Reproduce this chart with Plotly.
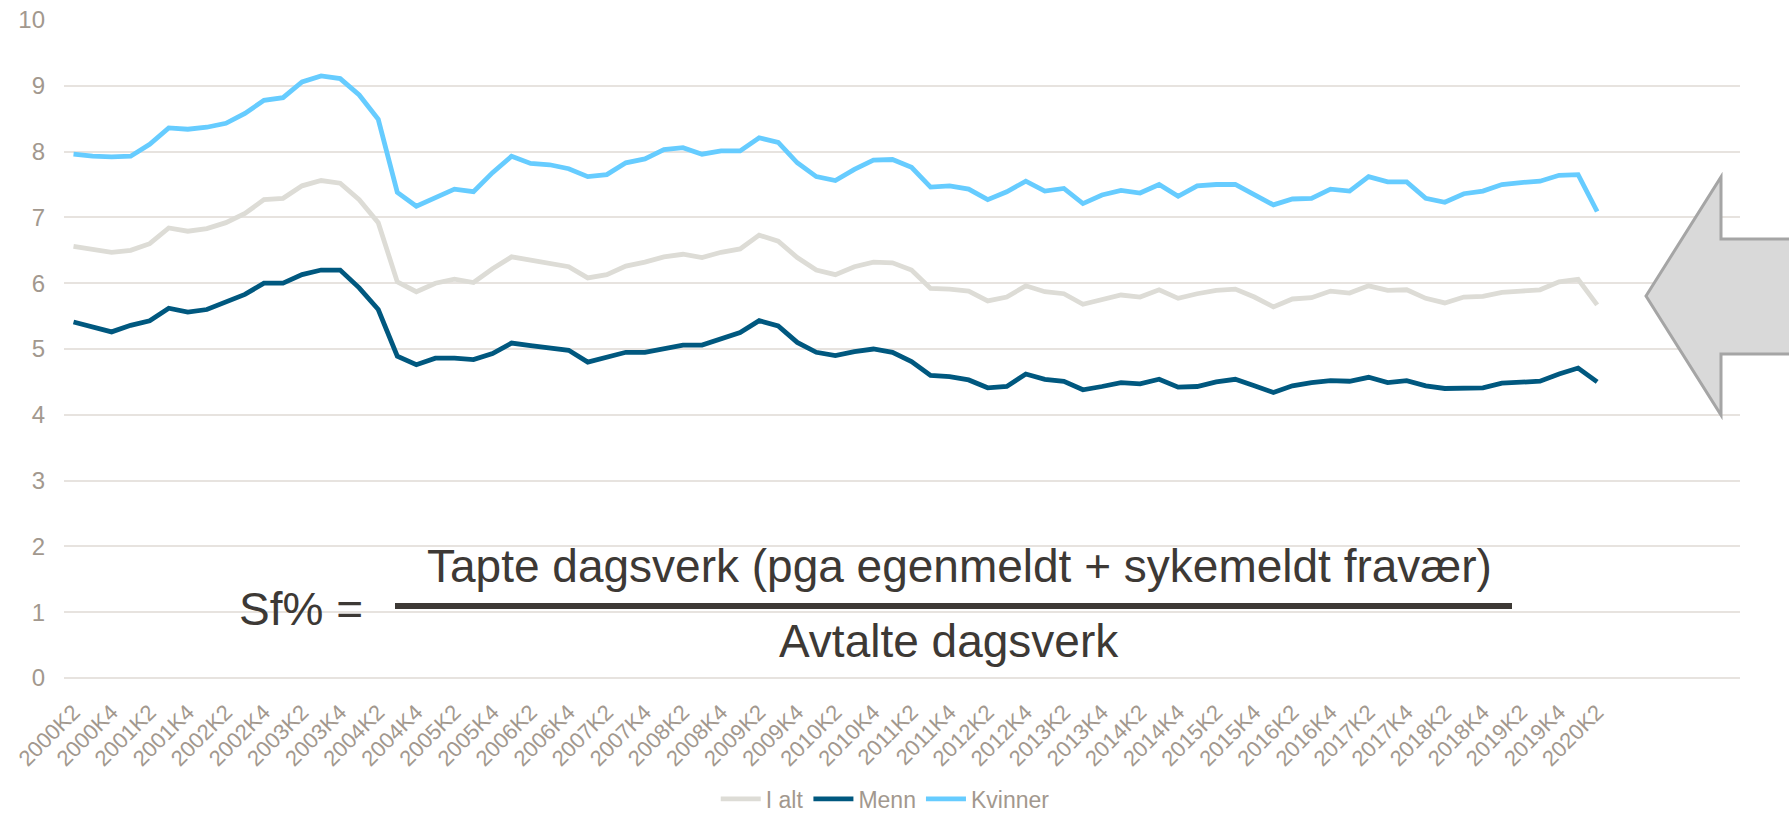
import plotly.graph_objects as go

# ---------------- data ----------------
years = list(range(2000, 2021))
categories = [f"{y}K{q}" for y in years for q in (1, 2, 3, 4)]
categories = categories[1:82]  # 2000K2 .. 2020K2 (81 quarters)

tick_labels = [
    "2000K2", "2000K4", "2001K2", "2001K4", "2002K2", "2002K4", "2003K2", "2003K4",
    "2004K2", "2004K4", "2005K2", "2005K4", "2006K2", "2006K4", "2007K2", "2007K4",
    "2008K2", "2008K4", "2009K2", "2009K4", "2010K2", "2010K4", "2011K2", "2011K4",
    "2012K2", "2012K4", "2013K2", "2013K4", "2014K2", "2014K4", "2015K2", "2015K4",
    "2016K2", "2016K4", "2017K2", "2017K4", "2018K2", "2018K4", "2019K2", "2019K4",
    "2020K2",
]

i_alt = [
    6.56, 6.51, 6.47, 6.50, 6.60, 6.84, 6.79, 6.83, 6.92, 7.06,
    7.27, 7.29, 7.48, 7.56, 7.52, 7.27, 6.92, 6.02, 5.87, 6.00,
    6.06, 6.01, 6.22, 6.40, 6.35, 6.31, 6.25, 6.08, 6.13, 6.26,
    6.32, 6.40, 6.44, 6.39, 6.47, 6.52, 6.73, 6.64, 6.39, 6.20,
    6.13, 6.25, 6.32, 6.31, 6.20, 5.92, 5.91, 5.88, 5.73, 5.79,
    5.96, 5.87, 5.84, 5.68, 5.75, 5.82, 5.79, 5.90, 5.77, 5.84,
    5.89, 5.91, 5.79, 5.64, 5.76, 5.78, 5.88, 5.85, 5.96, 5.89,
    5.90, 5.77, 5.70, 5.79, 5.80, 5.86, 5.88, 5.90, 6.02, 6.06,
    5.67,
]

menn = [
    5.41, 5.33, 5.26, 5.36, 5.43, 5.62, 5.56, 5.60, 5.71, 5.83,
    6.00, 6.00, 6.13, 6.20, 6.20, 5.93, 5.60, 4.89, 4.76, 4.86,
    4.86, 4.84, 4.93, 5.09, 5.05, 5.02, 4.98, 4.80, 4.87, 4.95,
    4.95, 5.00, 5.06, 5.06, 5.15, 5.25, 5.43, 5.35, 5.10, 4.95,
    4.90, 4.96, 5.00, 4.95, 4.81, 4.60, 4.58, 4.53, 4.41, 4.43,
    4.62, 4.54, 4.51, 4.38, 4.43, 4.49, 4.47, 4.54, 4.42, 4.43,
    4.50, 4.54, 4.44, 4.34, 4.44, 4.49, 4.52, 4.51, 4.57, 4.49,
    4.52, 4.44, 4.40, 4.41, 4.41, 4.48, 4.50, 4.51, 4.62, 4.71,
    4.50,
]

kvinner = [
    7.96, 7.93, 7.92, 7.93, 8.11, 8.36, 8.34, 8.37, 8.43, 8.58,
    8.78, 8.82, 9.06, 9.15, 9.11, 8.86, 8.49, 7.38, 7.17, 7.31,
    7.43, 7.39, 7.68, 7.93, 7.82, 7.80, 7.74, 7.62, 7.65, 7.83,
    7.89, 8.03, 8.06, 7.96, 8.01, 8.01, 8.21, 8.14, 7.83, 7.62,
    7.56, 7.73, 7.87, 7.88, 7.76, 7.46, 7.48, 7.43, 7.27, 7.39,
    7.55, 7.40, 7.44, 7.21, 7.34, 7.41, 7.37, 7.50, 7.32, 7.48,
    7.50, 7.50, 7.34, 7.19, 7.28, 7.29, 7.43, 7.40, 7.62, 7.54,
    7.54, 7.29, 7.23, 7.36, 7.40, 7.50, 7.53, 7.55, 7.64, 7.65,
    7.09,
]

series_names = ["I alt", "Menn", "Kvinner"]
series_colors = ["#DDDCD6", "#00587F", "#66CCFF"]

# ---------------- layout geometry (pixels) ----------------
W, H = 1789, 819
L, R, T, B = 64, 1740, 20, 678  # plot area edges

def px(x):
    return (x - L) / (R - L)

def py(y):
    return (B - y) / (B - T)

TICK_COLOR = "#A2988E"
FONT = "Liberation Sans, Arial, sans-serif"
TEXT_DARK = "#3D3935"

fig = go.Figure()
for name, vals, col in zip(series_names, [i_alt, menn, kvinner], series_colors):
    fig.add_trace(go.Scatter(
        x=categories, y=vals, name=name, mode="lines",
        line=dict(color=col, width=4.8),
    ))

fig.update_layout(
    width=W, height=H,
    margin=dict(l=L, r=W - R, t=T, b=H - B, autoexpand=False),
    paper_bgcolor="white", plot_bgcolor="white",
    font=dict(family=FONT, color=TICK_COLOR, size=22),
    showlegend=True,
    legend=dict(
        orientation="h", x=0.49, xanchor="center", y=py(799), yanchor="middle",
        font=dict(family=FONT, size=23, color=TICK_COLOR),
        itemwidth=40, tracegroupgap=0, bgcolor="rgba(0,0,0,0)",
    ),
    xaxis=dict(
        type="category", range=[-0.5, 87.5],
        tickmode="array", tickvals=tick_labels, ticktext=tick_labels,
        tickangle=-45, showgrid=False, zeroline=False, showline=False,
        ticks="", ticklabelstandoff=16,
        tickfont=dict(family=FONT, size=22, color=TICK_COLOR),
    ),
    yaxis=dict(
        range=[0, 10], dtick=1, tick0=0, showgrid=True,
        gridcolor="#E7E3DF", gridwidth=2, zeroline=True,
        zerolinecolor="#E7E3DF", zerolinewidth=2, showline=False, ticks="",
        ticklabelstandoff=18,
        tickfont=dict(family=FONT, size=24, color=TICK_COLOR),
    ),
)

# formula annotation
fig.add_annotation(
    text="Tapte dagsverk (pga egenmeldt + sykemeldt fravær)",
    xref="paper", yref="paper", x=px(959), y=py(566),
    xanchor="center", yanchor="middle", showarrow=False,
    font=dict(family=FONT, size=46, color=TEXT_DARK),
)
fig.add_annotation(
    text="Avtalte dagsverk",
    xref="paper", yref="paper", x=px(949), y=py(641),
    xanchor="center", yanchor="middle", showarrow=False,
    font=dict(family=FONT, size=46, color=TEXT_DARK),
)
fig.add_annotation(
    text="Sf% =",
    xref="paper", yref="paper", x=px(301), y=py(609),
    xanchor="center", yanchor="middle", showarrow=False,
    font=dict(family=FONT, size=46, color=TEXT_DARK),
)
fig.add_shape(
    type="line", xref="paper", yref="paper",
    x0=px(395), x1=px(1512), y0=py(606), y1=py(606),
    line=dict(color=TEXT_DARK, width=6),
)

# block arrow pointing left
arrow_pts = [(1646, 296), (1721, 177), (1721, 239), (1800, 239),
             (1800, 354), (1721, 354), (1721, 415)]
path = "M " + " L ".join(f"{px(x):.5f},{py(y):.5f}" for x, y in arrow_pts) + " Z"
fig.add_shape(
    type="path", xref="paper", yref="paper", path=path,
    fillcolor="#D9D9D9", line=dict(color="#A5A5A5", width=3), layer="above",
)

fig.write_html(
    "out.html",
    config={"displayModeBar": False},
    post_script="document.body.style.margin='0';document.body.style.overflow='hidden';",
)
